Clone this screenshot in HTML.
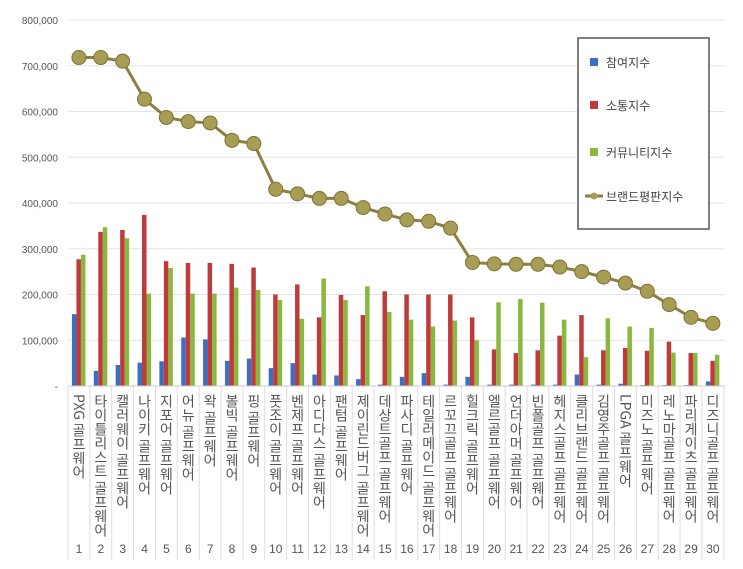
<!DOCTYPE html><html><head><meta charset="utf-8"><style>
body{margin:0;background:#fff;width:743px;height:569px;overflow:hidden;position:relative;font-family:"Liberation Sans","Noto Sans CJK KR",sans-serif}
.lab{position:absolute;top:394px;width:22px;writing-mode:vertical-rl;text-orientation:mixed;font-size:14px;color:#555;line-height:22px;letter-spacing:0px;font-family:"Noto Sans CJK KR",sans-serif}
.num{position:absolute;top:542px;width:22px;text-align:center;font-size:12px;color:#555}
</style></head><body>
<svg width="743" height="569" style="position:absolute;left:0;top:0" id="s"></svg>
<div id="labs"></div>
<script>
var L=[718,718,710,627,587,578,575,537,530,430,420,410,410,390,376,363,360,345,270,267,266,266,260,250,238,225,207,178,150,137];
var B=[[157,277,287],[33,337,347],[46,341,323],[51,374,202],[54,273,258],[106,269,202],[102,269,202],[55,267,215],[60,259,210],[39,200,188],[50,222,147],[25,150,235],[23,199,188],[15,155,218],[3,207,162],[20,200,145],[28,200,130],[3,200,143],[20,150,100],[3,80,183],[3,72,190],[3,78,182],[3,110,145],[25,155,63],[3,78,148],[5,83,130],[2,77,127],[2,97,73],[2,72,72],[10,55,68]];
var N=["PXG 골프웨어","타이틀리스트 골프웨어","캘러웨이 골프웨어","나이키 골프웨어","지포어 골프웨어","어뉴 골프웨어","왁 골프웨어","볼빅 골프웨어","핑 골프웨어","풋조이 골프웨어","벤제프 골프웨어","아디다스 골프웨어","팬텀 골프웨어","제이린드버그 골프웨어","데상트골프 골프웨어","파사디 골프웨어","테일러메이드 골프웨어","르꼬끄골프 골프웨어","힐크릭 골프웨어","엘르골프 골프웨어","언더아머 골프웨어","빈폴골프 골프웨어","헤지스골프 골프웨어","클리브랜드 골프웨어","김영주골프 골프웨어","LPGA 골프웨어","미즈노 골프웨어","레노마골프 골프웨어","파리게이츠 골프웨어","디즈니골프 골프웨어"];
var y0=386,k=0.4575,x0=68,w=21.86,h='';
function Y(v){return y0-v*k}
for(var i=0;i<=8;i++){var y=Y(i*100);h+='<line x1="68" x2="725" y1="'+y+'" y2="'+y+'" stroke="#e3e3e3"/>';
h+='<text x="58" y="'+(y+4)+'" text-anchor="end" font-size="10" fill="#555" font-family="Liberation Sans">'+(i?i*100+',000':'-')+'</text>';}
var C=['#3a6fc4','#c0393b','#8ab83f'];
for(var i=0;i<30;i++){var cx=x0+w*i+w/2;
h+='<line x1="'+(x0+w*i)+'" x2="'+(x0+w*i)+'" y1="386" y2="560" stroke="#ddd"/>';
for(var j=0;j<3;j++){var v=B[i][j];h+='<rect x="'+(cx-7+j*4.5)+'" y="'+Y(v)+'" width="4.5" height="'+(v*k)+'" fill="'+C[j]+'"/>';}}
h+='<line x1="'+(x0+w*30)+'" x2="'+(x0+w*30)+'" y1="386" y2="560" stroke="#ddd"/><line x1="68" x2="725" y1="386" y2="386" stroke="#ccc"/>';
var p=L.map(function(v,i){return (x0+w*i+w/2)+','+Y(v)}).join(' ');
h+='<polyline points="'+p+'" fill="none" stroke="#8a8040" stroke-width="3"/>';
L.forEach(function(v,i){h+='<circle cx="'+(x0+w*i+w/2)+'" cy="'+Y(v)+'" r="7" fill="#a89d55" stroke="#7d7235"/>'});
h+='<rect x="578" y="38" width="131" height="191" fill="#fff" stroke="#555" stroke-width="1.5"/>';
var lg=['참여지수','소통지수','커뮤니티지수','브랜드평판지수'],ly=[62,105,152,196];
for(var j=0;j<4;j++){if(j<3)h+='<rect x="590" y="'+(ly[j]-4)+'' +'" width="8" height="8" fill="'+C[j]+'"/>';else h+='<line x1="585" x2="603" y1="196" y2="196" stroke="#8a8040" stroke-width="3"/><circle cx="594" cy="196" r="3.5" fill="#a89d55"/>';
h+='<text x="606" y="'+(ly[j]+5)+'" font-size="12" fill="#444" font-family="Noto Sans CJK KR">'+lg[j]+'</text>';}
document.getElementById('s').innerHTML=h;
var d='';for(var i=0;i<30;i++){var lx=x0+w*i;d+='<div class="lab" style="left:'+lx+'px">'+N[i]+'</div><div class="num" style="left:'+lx+'px">'+(i+1)+'</div>';}
document.getElementById('labs').innerHTML=d;
</script></body></html>
